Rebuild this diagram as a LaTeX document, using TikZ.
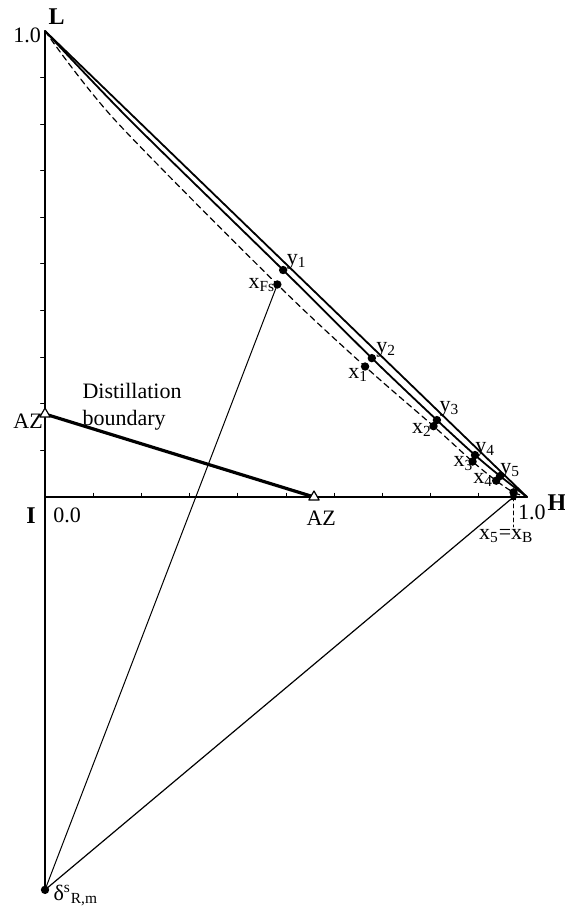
\documentclass[tikz,border=0pt]{standalone}
\usepackage{fontspec}
\setmainfont{Liberation Serif}
\usetikzlibrary{shapes.geometric}
\tikzset{
  dot/.style={circle, fill, inner sep=0pt, minimum size=4.2pt},
  azmark/.style={regular polygon, regular polygon sides=3, draw, fill=white, inner sep=0pt, minimum size=6pt, line width=0.6pt},
  vtx/.style={inner sep=0pt, font=\fontsize{12}{14}\selectfont\bfseries},
  lbl/.style={inner sep=0pt}
}
\begin{document}
\begin{tikzpicture}[x=241pt, y=233pt, line join=round, line cap=round, font=\fontsize{11}{13.5}\selectfont]
\useasboundingbox (-0.0934,-0.8798) rectangle (1.0768,1.0665);
\coordinate (I) at (0,0);
\coordinate (L) at (0,1);
\coordinate (H) at (1,0);
\coordinate (D) at (0,-0.843);
% vapour points
\coordinate (y1) at (0.494,0.487);
\coordinate (y2) at (0.678,0.298);
\coordinate (y3) at (0.813,0.165);
\coordinate (y4) at (0.892,0.090);
\coordinate (y5) at (0.944,0.045);
% liquid points
\coordinate (xF) at (0.482,0.456);
\coordinate (x1) at (0.664,0.280);
\coordinate (x2) at (0.806,0.152);
\coordinate (x3) at (0.887,0.076);
\coordinate (x4) at (0.936,0.035);
\coordinate (xB) at (0.972,0.010);
\coordinate (xBa) at (0.972,0);
\coordinate (xBl) at (0.972,-0.064);
% azeotropes
\coordinate (AZl) at (0,0.178);
\coordinate (AZb) at (0.558,0);

% axes
\draw[line width=0.7pt] (L) -- (D);
\draw[line width=0.7pt] (I) -- (H);
\foreach \i in {1,...,9} {
  \draw[line width=0.5pt] (0,\i/10) -- ++(-0.009,0);
  \draw[line width=0.5pt] (\i/10,0) -- ++(0,0.008);
}

% lines of the column
\draw[line width=0.9pt] (L) -- (H);
\draw[line width=0.9pt] plot[smooth, tension=0.5] coordinates {(L) (0.176,0.809) (y1) (y2) (y3) (y4) (y5) (H)};
\draw[dashed, dash pattern=on 3pt off 2pt, line width=0.6pt] plot[smooth, tension=0.5] coordinates {(L) (0.145,0.809) (xF) (x1) (x2) (x3) (x4) (xB) (H)};
\draw[line width=1.6pt] (AZl) -- (AZb);
\draw[line width=0.5pt] (D) -- (xF);
\draw[line width=0.6pt] (D) -- (xBa);
\draw[dashed, dash pattern=on 2pt off 1.5pt, line width=0.5pt] (xBa) -- (xBl);

% marks
\foreach \p in {y1,y2,y3,y4,y5,xF,x1,x2,x3,x4,xB,D}
  \node[dot] at (\p) {};
\node[azmark] at (AZl) {};
\node[azmark] at (AZb) {};
\node[star, star points=5, fill, inner sep=0pt, minimum size=4pt] at (xBa) {};

% labels
\node[vtx] (Ll) at (0.024,1.031) {L};
\node[vtx] (Il) at (-0.029,-0.039) {I};
\node[vtx] (Hl) at (1.062,-0.013) {H};
\node[lbl] (one1) at (-0.037,0.991) {1.0};
\node[lbl] (zero) at (0.046,-0.039) {0.0};
\node[lbl] (one2) at (1.010,-0.034) {1.0};
\node[lbl] (AZll) at (-0.035,0.163) {AZ};
\node[lbl] (AZbl) at (0.573,-0.045) {AZ};
\node[lbl, anchor=west, align=left] (bnd) at (0.077,0.194) {Distillation\\boundary};
\node[lbl] (y1l) at (0.522,0.505) {y\textsubscript{1}};
\node[lbl] (y2l) at (0.708,0.316) {y\textsubscript{2}};
\node[lbl] (y3l) at (0.839,0.190) {y\textsubscript{3}};
\node[lbl] (y4l) at (0.913,0.102) {y\textsubscript{4}};
\node[lbl] (y5l) at (0.965,0.057) {y\textsubscript{5}};
\node[lbl] (xFl) at (0.450,0.455) {x\textsubscript{Fs}};
\node[lbl] (x1l) at (0.650,0.262) {x\textsubscript{1}};
\node[lbl] (x2l) at (0.782,0.144) {x\textsubscript{2}};
\node[lbl] (x3l) at (0.868,0.072) {x\textsubscript{3}};
\node[lbl] (x4l) at (0.909,0.037) {x\textsubscript{4}};
\node[lbl] (xBll) at (0.957,-0.084) {x\textsubscript{5}=x\textsubscript{B}};
\node[lbl, anchor=base west] (Dl) at (0.017,-0.866) {δ\textsuperscript{s}\textsubscript{R,m}};
\end{tikzpicture}
\end{document}
